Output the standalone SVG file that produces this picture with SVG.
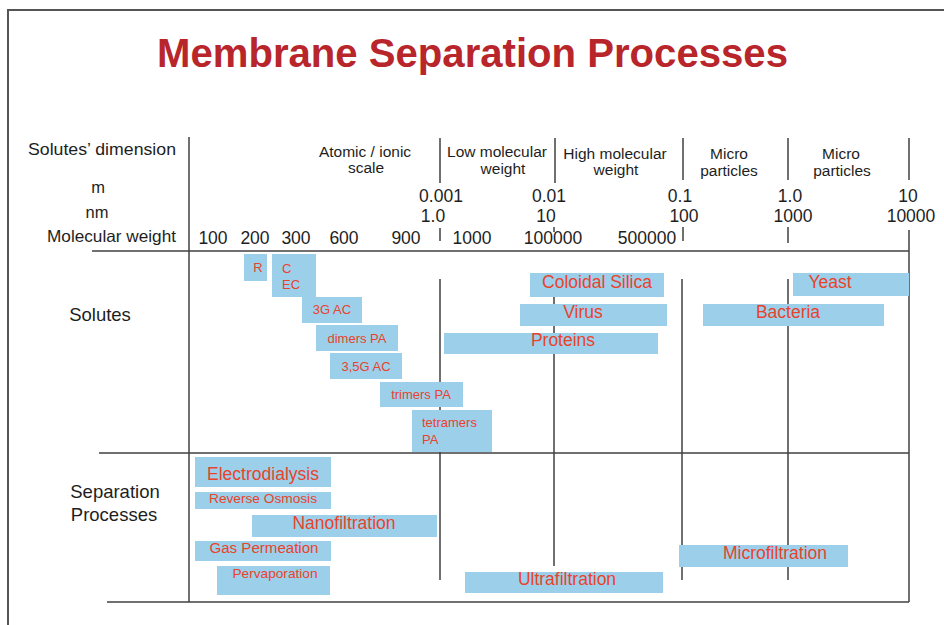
<svg xmlns="http://www.w3.org/2000/svg" width="944" height="625" viewBox="0 0 944 625">
<style>
  .ln { stroke: #404040; stroke-width: 1.5; fill: none; }
  .frame { stroke: #555555; stroke-width: 2; fill: none; }
  .box { fill: #9ccfe9; }
  .hd { font-family: "Liberation Sans", Arial, sans-serif; fill: #1e1e1e; }
  .lab { font-family: "Liberation Sans", Arial, sans-serif; fill: #e8432c; }
  .s13 { font-size: 13px; }
  .s14 { font-size: 14px; }
  .s17 { font-size: 17.5px; }
  .title { font-family: "Liberation Sans", Arial, sans-serif; font-weight: bold; font-size: 40px; fill: #b8252a; }
</style>
<rect x="0" y="0" width="944" height="625" fill="#ffffff"/>
<path class="frame" d="M8,625 V10 H944"/>
<text class="title" x="157" y="67" textLength="631" lengthAdjust="spacingAndGlyphs">Membrane Separation Processes</text>

<g id="connectors">
  <line class="ln" x1="189" y1="137" x2="189" y2="602"/>
  <line class="ln" x1="92" y1="251" x2="909" y2="251"/>
  <line class="ln" x1="99" y1="453" x2="909" y2="453"/>
  <line class="ln" x1="107" y1="602" x2="909" y2="602"/>
  <line class="ln" x1="909" y1="251" x2="909" y2="602"/>
  <line class="ln" x1="440" y1="138" x2="440" y2="183"/>
  <line class="ln" x1="555" y1="138" x2="555" y2="183"/>
  <line class="ln" x1="683" y1="138" x2="683" y2="180"/>
  <line class="ln" x1="788" y1="138" x2="788" y2="180"/>
  <line class="ln" x1="909" y1="138" x2="909" y2="180"/>
  <line class="ln" x1="440" y1="228" x2="440" y2="241"/>
  <line class="ln" x1="554" y1="227" x2="554" y2="232"/>
  <line class="ln" x1="683" y1="227" x2="683" y2="241"/>
  <line class="ln" x1="788" y1="227" x2="788" y2="243"/>
  <line class="ln" x1="909" y1="230" x2="909" y2="251"/>
  <line class="ln" x1="440" y1="279" x2="440" y2="580"/>
  <line class="ln" x1="554" y1="279" x2="554" y2="566"/>
  <line class="ln" x1="682" y1="279" x2="682" y2="580"/>
  <line class="ln" x1="788" y1="279" x2="788" y2="580"/>
</g>

<g id="header">
  <text class="hd" x="28" y="155" font-size="16.5" textLength="148" lengthAdjust="spacingAndGlyphs">Solutes’ dimension</text>
  <text class="hd" x="98" y="193" font-size="16.5" text-anchor="middle">m</text>
  <text class="hd" x="97" y="218" font-size="16.5" text-anchor="middle">nm</text>
  <text class="hd" x="47" y="242" font-size="16.5" textLength="129" lengthAdjust="spacingAndGlyphs">Molecular weight</text>
  <text class="hd" x="365" y="157" font-size="15.5" text-anchor="middle">Atomic / ionic</text>
  <text class="hd" x="366" y="173" font-size="15.5" text-anchor="middle">scale</text>
  <text class="hd" x="497" y="157" font-size="15.5" text-anchor="middle">Low molecular</text>
  <text class="hd" x="503" y="174" font-size="15.5" text-anchor="middle">weight</text>
  <text class="hd" x="615" y="159" font-size="15.5" text-anchor="middle">High molecular</text>
  <text class="hd" x="616" y="175" font-size="15.5" text-anchor="middle">weight</text>
  <text class="hd" x="729" y="159" font-size="15.5" text-anchor="middle">Micro</text>
  <text class="hd" x="729" y="176" font-size="15.5" text-anchor="middle">particles</text>
  <text class="hd" x="841" y="159" font-size="15.5" text-anchor="middle">Micro</text>
  <text class="hd" x="842" y="176" font-size="15.5" text-anchor="middle">particles</text>
  <text class="hd s17" x="441" y="202" text-anchor="middle">0.001</text>
  <text class="hd s17" x="433" y="222" text-anchor="middle">1.0</text>
  <text class="hd s17" x="549" y="202" text-anchor="middle">0.01</text>
  <text class="hd s17" x="546" y="222" text-anchor="middle">10</text>
  <text class="hd s17" x="680" y="202" text-anchor="middle">0.1</text>
  <text class="hd s17" x="684" y="222" text-anchor="middle">100</text>
  <text class="hd s17" x="790" y="202" text-anchor="middle">1.0</text>
  <text class="hd s17" x="793" y="222" text-anchor="middle">1000</text>
  <text class="hd s17" x="908" y="202" text-anchor="middle">10</text>
  <text class="hd s17" x="911" y="222" text-anchor="middle">10000</text>
  <text class="hd s17" x="213" y="244" text-anchor="middle">100</text>
  <text class="hd s17" x="255" y="244" text-anchor="middle">200</text>
  <text class="hd s17" x="296" y="244" text-anchor="middle">300</text>
  <text class="hd s17" x="344" y="244" text-anchor="middle">600</text>
  <text class="hd s17" x="406" y="244" text-anchor="middle">900</text>
  <text class="hd s17" x="472" y="244" text-anchor="middle">1000</text>
  <text class="hd s17" x="553" y="244" text-anchor="middle">100000</text>
  <text class="hd s17" x="647" y="244" text-anchor="middle">500000</text>
</g>

<g id="section-labels">
  <text class="hd" x="100" y="321" font-size="18.5" text-anchor="middle">Solutes</text>
  <text class="hd" x="115" y="498" font-size="18.5" text-anchor="middle">Separation</text>
  <text class="hd" x="114" y="521" font-size="18.5" text-anchor="middle">Processes</text>
</g>

<g id="R"><rect class="box" x="244" y="254" width="23" height="27"/><text class="lab s13" x="258" y="272" text-anchor="middle">R</text></g>
<g id="C-EC"><rect class="box" x="272" y="254" width="44" height="43"/><text class="lab s13" x="282" y="273">C</text><text class="lab s13" x="282" y="289">EC</text></g>
<g id="3G-AC"><rect class="box" x="302" y="297" width="60" height="26"/><text class="lab s13" x="332" y="314" text-anchor="middle">3G AC</text></g>
<g id="dimers-PA"><rect class="box" x="316" y="325" width="82" height="26"/><text class="lab s13" x="357" y="343" text-anchor="middle">dimers PA</text></g>
<g id="35G-AC"><rect class="box" x="330" y="353" width="72" height="26"/><text class="lab s13" x="366" y="371" text-anchor="middle">3,5G AC</text></g>
<g id="trimers-PA"><rect class="box" x="380" y="382" width="83" height="25"/><text class="lab s13" x="421" y="399" text-anchor="middle">trimers PA</text></g>
<g id="tetramers-PA"><rect class="box" x="412" y="410" width="80" height="42"/><text class="lab s13" x="422" y="427">tetramers</text><text class="lab s13" x="422" y="444">PA</text></g>
<g id="coloidal-silica"><rect class="box" x="530" y="273" width="134" height="24"/><text class="lab s17" x="597" y="288" text-anchor="middle">Coloidal Silica</text></g>
<g id="virus"><rect class="box" x="520" y="304" width="147" height="22"/><text class="lab s17" x="583" y="318" text-anchor="middle">Virus</text></g>
<g id="proteins"><rect class="box" x="444" y="333" width="214" height="21"/><text class="lab s17" x="563" y="346" text-anchor="middle">Proteins</text></g>
<g id="yeast"><rect class="box" x="793" y="273" width="116" height="23"/><text class="lab s17" x="830" y="288" text-anchor="middle">Yeast</text></g>
<g id="bacteria"><rect class="box" x="703" y="304" width="181" height="22"/><text class="lab s17" x="788" y="318" text-anchor="middle">Bacteria</text></g>

<g id="electrodialysis"><rect class="box" x="195" y="457" width="136" height="30"/><text class="lab s17" x="263" y="480" text-anchor="middle">Electrodialysis</text></g>
<g id="reverse-osmosis"><rect class="box" x="195" y="492" width="136" height="17"/><text class="lab s13" x="263" y="503" text-anchor="middle" textLength="108" lengthAdjust="spacingAndGlyphs">Reverse Osmosis</text></g>
<g id="nanofiltration"><rect class="box" x="252" y="515" width="185" height="22"/><text class="lab s17" x="344" y="529" text-anchor="middle">Nanofiltration</text></g>
<g id="gas-permeation"><rect class="box" x="195" y="541" width="136" height="20"/><text class="lab s14" x="264" y="553" text-anchor="middle" textLength="109" lengthAdjust="spacingAndGlyphs">Gas Permeation</text></g>
<g id="pervaporation"><rect class="box" x="217" y="566" width="113" height="29"/><text class="lab s13" x="275" y="578" text-anchor="middle" textLength="85" lengthAdjust="spacingAndGlyphs">Pervaporation</text></g>
<g id="ultrafiltration"><rect class="box" x="465" y="572" width="198" height="21"/><text class="lab s17" x="567" y="585" text-anchor="middle">Ultrafiltration</text></g>
<g id="microfiltration"><rect class="box" x="679" y="545" width="169" height="22"/><text class="lab s17" x="775" y="559" text-anchor="middle">Microfiltration</text></g>
</svg>
